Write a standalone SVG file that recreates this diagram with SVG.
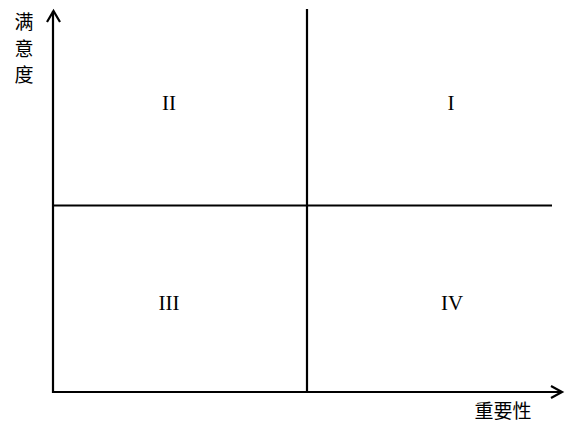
<svg xmlns="http://www.w3.org/2000/svg" width="572" height="424" viewBox="0 0 572 424">
<style>
.ln{stroke:#000;stroke-width:2.2;fill:none}
.ah{stroke:#000;stroke-width:2.2;fill:none;stroke-linejoin:miter}
.cjk{font-family:"Noto Sans CJK SC","Noto Sans CJK JP",sans-serif;font-size:19px;fill:#000}
.rn{font-family:"Liberation Serif","DejaVu Serif",serif;font-size:21px;fill:#000;text-anchor:middle}
</style>
<rect width="572" height="424" fill="#fff"/>
<g id="connectors">
<line class="ln" x1="53" y1="11" x2="53" y2="393"/>
<polyline class="ah" points="47,22 53.5,11 60,22"/>
<line class="ln" x1="52" y1="392" x2="561" y2="392"/>
<polyline class="ah" points="551,386 562,392 551,398"/>
<line class="ln" x1="307" y1="9" x2="307" y2="392"/>
<line class="ln" x1="53" y1="205.5" x2="552" y2="205.5"/>
</g>
<g id="y-label">
<text class="cjk" x="24" y="29" text-anchor="middle">满</text>
<text class="cjk" x="24" y="56" text-anchor="middle">意</text>
<text class="cjk" x="24" y="82" text-anchor="middle">度</text>
</g>
<g id="x-label">
<text class="cjk" x="503" y="418" text-anchor="middle">重要性</text>
</g>
<g id="q2"><text class="rn" x="169" y="110">II</text></g>
<g id="q1"><text class="rn" x="451" y="110">I</text></g>
<g id="q3"><text class="rn" x="169" y="310">III</text></g>
<g id="q4"><text class="rn" x="452" y="310">IV</text></g>
</svg>
